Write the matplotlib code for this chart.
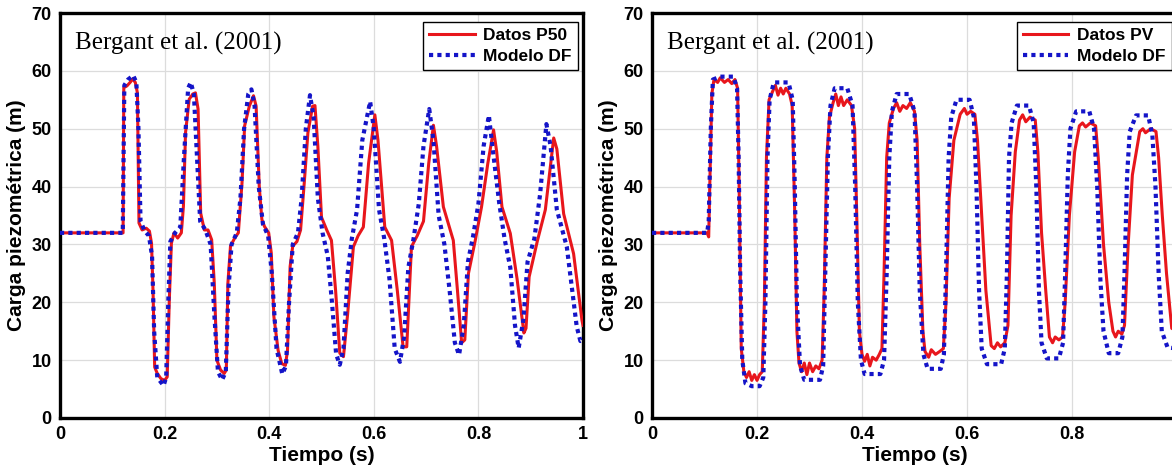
import numpy as np
import matplotlib.pyplot as plt

# ---- datos (Bergant et al. 2001) ----
# panel izquierdo: P50
t_p50 = [0, 0.1206, 0.122, 0.128, 0.134, 0.139, 0.144, 0.148, 0.151, 0.157, 0.165, 0.171,
         0.175, 0.178, 0.181, 0.186, 0.193, 0.2, 0.205, 0.209, 0.213, 0.218, 0.225, 0.232,
         0.236, 0.24, 0.247, 0.254, 0.259, 0.264, 0.269, 0.276, 0.283, 0.29, 0.295, 0.3,
         0.307, 0.314, 0.318, 0.321, 0.326, 0.334, 0.341, 0.348, 0.353, 0.362, 0.37, 0.375,
         0.381, 0.386, 0.391, 0.399, 0.404, 0.409, 0.417, 0.424, 0.431, 0.435, 0.44, 0.445,
         0.453, 0.46, 0.467, 0.474, 0.483, 0.4875, 0.493, 0.5, 0.51, 0.519, 0.527, 0.535,
         0.542, 0.55, 0.561, 0.57, 0.58, 0.59, 0.602, 0.608, 0.621, 0.634, 0.645, 0.656,
         0.663, 0.672, 0.683, 0.695, 0.705, 0.714, 0.72, 0.733, 0.752, 0.76, 0.768, 0.774,
         0.781, 0.794, 0.806, 0.818, 0.829, 0.835, 0.845, 0.861, 0.874, 0.887, 0.891, 0.897,
         0.913, 0.928, 0.944, 0.95, 0.963, 0.982, 0.998, 1.0]
h_p50 = [32, 32, 57.1, 57.4, 58.0, 58.6, 58.0, 56.2, 33.7, 32.5, 32.8, 32.3,
         30.2, 21.6, 8.8, 7.7, 6.8, 6.5, 7.1, 20.4, 30.2, 32.0, 31.1, 32.0,
         36.6, 49.3, 55.1, 56.0, 56.2, 53.4, 35.4, 32.5, 32.5, 30.8, 23.3, 10.0,
         8.3, 7.7, 8.3, 23.3, 29.7, 31.1, 32.0, 40.6, 50.5, 53.9, 55.7, 53.9,
         40.0, 34.3, 33.1, 32.0, 28.5, 17.5, 11.7, 9.4, 9.1, 11.7, 26.2, 29.7,
         30.5, 32.5, 40.6, 49.3, 53.9, 54.0, 47.0, 34.7, 32.5, 30.7, 22.0, 11.2,
         10.6, 18.0, 29.6, 31.5, 33.0, 44.0, 52.4, 48.0, 33.0, 30.7, 22.0, 12.3,
         12.3, 29.6, 31.5, 34.0, 44.0, 50.6, 47.0, 36.5, 30.7, 22.0, 13.0, 13.5,
         25.0, 30.7, 36.5, 44.0, 49.8, 46.0, 36.5, 31.9, 24.0, 14.7, 15.5, 24.4,
         30.7, 36.0, 48.4, 46.5, 35.3, 28.4, 16.9, 16.0]

# modelo DF (izquierdo)
t_df1 = [0, 0.12, 0.123, 0.13, 0.14, 0.146, 0.15, 0.154, 0.162, 0.17, 0.176, 0.18, 0.186,
         0.198, 0.203, 0.207, 0.211, 0.22, 0.23, 0.237, 0.245, 0.25, 0.256, 0.262, 0.268,
         0.278, 0.288, 0.295, 0.302, 0.31, 0.317, 0.322, 0.328, 0.338, 0.345, 0.352, 0.36,
         0.366, 0.372, 0.38, 0.388, 0.398, 0.405, 0.414, 0.425, 0.432, 0.438, 0.445, 0.455,
         0.462, 0.47, 0.478, 0.485, 0.493, 0.502, 0.512, 0.52, 0.528, 0.535, 0.542, 0.55,
         0.558, 0.568, 0.578, 0.593, 0.6, 0.61, 0.62, 0.63, 0.64, 0.65, 0.658, 0.666, 0.676,
         0.686, 0.695, 0.706, 0.714, 0.724, 0.735, 0.745, 0.755, 0.763, 0.772, 0.78, 0.79,
         0.8, 0.81, 0.82, 0.828, 0.84, 0.85, 0.861, 0.87, 0.877, 0.886, 0.894, 0.907, 0.918,
         0.93, 0.938, 0.95, 0.969, 0.988, 0.995, 1.0]
h_df1 = [32, 32, 57.5, 58.5, 59.2, 58.0, 50.0, 34.0, 32.3, 31.5, 28.0, 15.0, 7.0,
         5.6, 7.0, 20.0, 30.5, 32.0, 33.0, 45.0, 57.0, 58.0, 56.0, 45.0, 34.0,
         32.5, 30.0, 18.0, 8.0, 6.6, 8.0, 22.0, 30.0, 32.0, 38.0, 50.0, 56.0,
         56.8, 54.0, 40.0, 33.5, 31.5, 25.0, 12.0, 7.6, 9.0, 20.0, 30.0, 32.0,
         38.0, 50.0, 55.8, 52.0, 38.0, 32.0, 28.0, 20.0, 11.0, 9.2, 12.0, 25.0,
         31.0, 36.0, 48.0, 54.7, 50.0, 36.0, 31.0, 24.0, 12.0, 9.7, 14.0, 26.0, 31.0,
         37.0, 47.0, 53.4, 48.0, 35.0, 30.0, 22.0, 13.0, 10.9, 16.0, 27.0, 31.5,
         37.0, 47.0, 52.3, 46.0, 37.0, 31.0, 26.0, 16.0, 12.1, 17.0, 27.0, 31.0, 38.7,
         50.8, 47.0, 36.0, 29.6, 15.8, 13.3, 13.5]

# panel derecho: PV
t_pv = [0, 0.105, 0.108, 0.11, 0.114, 0.118, 0.125, 0.13, 0.138, 0.145, 0.152, 0.158, 0.163,
        0.166, 0.17, 0.175, 0.18, 0.185, 0.19, 0.195, 0.2, 0.205, 0.21, 0.214, 0.218, 0.223,
        0.23, 0.235, 0.24, 0.245, 0.25, 0.255, 0.262, 0.267, 0.272, 0.276, 0.28, 0.285, 0.29,
        0.295, 0.3, 0.306, 0.312, 0.318, 0.324, 0.328, 0.333, 0.338, 0.345, 0.35, 0.355, 0.36,
        0.365, 0.372, 0.38, 0.386, 0.39, 0.395, 0.4, 0.405, 0.41, 0.415, 0.42, 0.427, 0.433,
        0.438, 0.442, 0.447, 0.452, 0.46, 0.466, 0.472, 0.478, 0.485, 0.492, 0.5, 0.505, 0.51,
        0.516, 0.52, 0.527, 0.532, 0.54, 0.548, 0.555, 0.56, 0.566, 0.575, 0.587, 0.595, 0.6,
        0.607, 0.615, 0.62, 0.628, 0.636, 0.646, 0.652, 0.658, 0.664, 0.672, 0.678, 0.684,
        0.692, 0.7, 0.706, 0.712, 0.72, 0.73, 0.735, 0.742, 0.75, 0.757, 0.763, 0.768, 0.775,
        0.782, 0.787, 0.795, 0.805, 0.814, 0.82, 0.826, 0.835, 0.845, 0.85, 0.86, 0.87, 0.878,
        0.883, 0.888, 0.895, 0.9, 0.907, 0.915, 0.929, 0.935, 0.94, 0.95, 0.96, 0.965, 0.972,
        0.98, 0.99, 1.0]
h_pv = [32, 32, 31.3, 40, 56, 58.5, 58, 58.8, 58, 58.5, 57.8, 58.5, 57,
        40, 12, 8, 7, 8, 6.5, 7.5, 6.5, 7.5, 8, 20, 45, 55,
        56.5, 57.5, 55.8, 57, 56, 57, 56, 54, 35, 15, 9.5, 8, 9.5,
        7.5, 9.5, 8, 9, 8.5, 10, 22, 45, 52, 54.5, 56, 54, 55.5,
        54, 55, 54, 50, 35, 15, 11, 9.8, 11, 9, 10.5, 10, 11,
        12, 25, 45, 51, 53.5, 54.5, 53, 54, 53.5, 54.5, 53, 48, 30,
        15, 11.5, 10.5, 11.8, 11, 11.5, 12, 20, 38, 48, 52.5, 53.5, 52.5,
        53, 52.5, 48, 35, 22, 12.5, 12, 13, 12.3, 13, 16, 35,
        46, 51.5, 52.4, 51.2, 52, 51.5, 46, 32, 22, 14, 13, 14, 13.5,
        14, 20, 35, 46, 50.5, 51, 50.3, 51, 50.5, 45, 30, 20, 15,
        14, 15, 14.5, 16, 30, 42, 49.5, 50, 49.3, 50, 49.5, 45, 35,
        25, 15.5, 15]

# modelo DF (derecho)
t_df2 = [0, 0.105, 0.108, 0.112, 0.116, 0.13, 0.155, 0.162, 0.165, 0.168, 0.172, 0.178, 0.19,
         0.205, 0.212, 0.216, 0.22, 0.224, 0.232, 0.26, 0.268, 0.272, 0.276, 0.282, 0.29, 0.32,
         0.326, 0.33, 0.335, 0.34, 0.348, 0.372, 0.382, 0.387, 0.392, 0.398, 0.405, 0.435,
         0.442, 0.447, 0.452, 0.457, 0.466, 0.49, 0.5, 0.505, 0.51, 0.517, 0.525, 0.55, 0.556,
         0.56, 0.565, 0.57, 0.58, 0.605, 0.613, 0.618, 0.623, 0.628, 0.638, 0.665, 0.672,
         0.676, 0.68, 0.685, 0.695, 0.718, 0.727, 0.732, 0.737, 0.742, 0.752, 0.775, 0.783,
         0.787, 0.792, 0.797, 0.808, 0.833, 0.842, 0.848, 0.854, 0.86, 0.87, 0.888, 0.896,
         0.9, 0.905, 0.91, 0.922, 0.945, 0.953, 0.959, 0.965, 0.971, 0.982, 1.0]
h_df2 = [32, 32, 34, 50, 58.5, 59, 59, 57, 45, 25, 10, 6, 5.5,
         5.5, 7, 20, 45, 55, 58, 58, 55, 40, 20, 9, 6.6, 6.6,
         9, 25, 45, 54, 57, 57, 54, 40, 20, 10, 7.6, 7.6,
         10, 25, 45, 53, 56, 56, 53, 40, 22, 11, 8.5, 8.5, 11,
         25, 45, 52, 55, 55, 52, 40, 22, 12, 9.3, 9.3, 12,
         25, 45, 51, 54, 54, 51, 40, 22, 13, 10.3, 10.3, 13,
         25, 42, 50, 53, 53, 50, 40, 24, 15, 11.2, 11.2, 14,
         25, 42, 49.5, 52.3, 52.3, 49, 40, 25, 15, 12.2, 12]

x_ticks = [0, 0.2, 0.4, 0.6, 0.8, 1]
x_ticklabels = ['0', '0.2', '0.4', '0.6', '0.8', '1']
y_ticks = [0, 10, 20, 30, 40, 50, 60, 70]

rojo = '#e8161c'
azul = '#1414c8'

plt.rcParams['font.family'] = ['Liberation Sans', 'DejaVu Sans']
plt.rcParams['font.weight'] = 'bold'

fig = plt.figure(figsize=(11.72, 4.74), dpi=100)
ax1 = fig.add_axes([60 / 1172, 56 / 474, 523 / 1172, 405 / 474])
ax2 = fig.add_axes([652 / 1172, 56 / 474, 525 / 1172, 405 / 474])

paneles = [(ax1, t_p50, h_p50, t_df1, h_df1, 'Datos P50'),
           (ax2, t_pv, h_pv, t_df2, h_df2, 'Datos PV')]

for ax, td, hd, tm, hm, etiqueta in paneles:
    ax.plot(td, hd, color=rojo, lw=2.2, label=etiqueta, zorder=3)
    ax.plot(tm, hm, color=azul, lw=3.0, dashes=(1, 1.0), dash_capstyle='butt',
            label='Modelo DF', zorder=4)
    ax.set_xlim(0, 1)
    ax.set_ylim(0, 70)
    ax.set_xticks(x_ticks)
    ax.set_xticklabels(x_ticklabels)
    ax.set_yticks(y_ticks)
    ax.grid(True, color='#dcdcdc', lw=0.9)
    ax.set_axisbelow(True)
    ax.tick_params(length=0, labelsize=13, pad=6)
    for lab in ax.get_xticklabels() + ax.get_yticklabels():
        lab.set_fontweight('bold')
    for s in ax.spines.values():
        s.set_linewidth(2.4)
    ax.set_xlabel('Tiempo (s)', fontsize=15, fontweight='bold', labelpad=2)
    ax.set_ylabel('Carga piezométrica (m)', fontsize=15, fontweight='bold', labelpad=4)
    ax.text(0.028, 0.925, 'Bergant et al. (2001)', transform=ax.transAxes,
            fontsize=18, family='Liberation Serif', fontweight='normal',
            va='center', ha='left')
    leg = ax.legend(loc='upper right', bbox_to_anchor=(0.99, 0.978), fancybox=False,
                    framealpha=1, edgecolor='black', fontsize=12.5,
                    handlelength=2.6, borderpad=0.35, labelspacing=0.35,
                    handletextpad=0.5, borderaxespad=0)
    leg.get_frame().set_linewidth(1.0)
    for txt in leg.get_texts():
        txt.set_fontweight('bold')

# en la figura original el panel derecho queda recortado: no se ve el "1"
ax2.set_xticklabels(x_ticklabels[:-1] + [''])

fig.savefig('out.png', dpi=100)
